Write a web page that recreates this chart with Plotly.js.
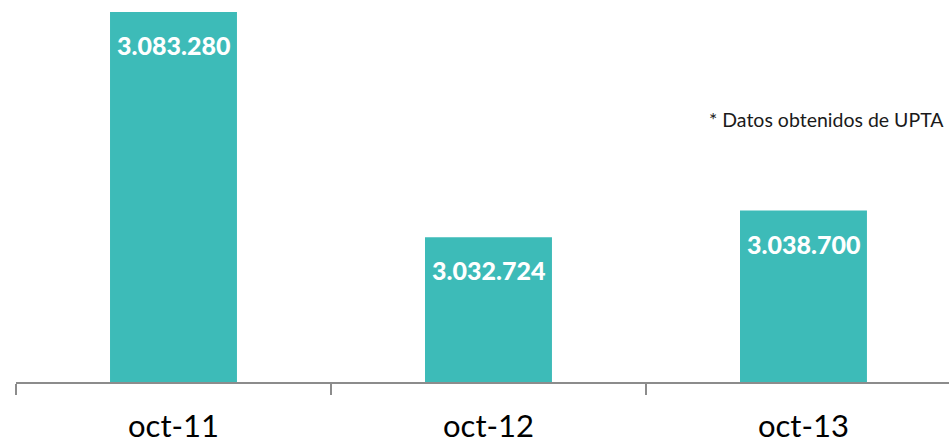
<!DOCTYPE html>
<html>
<head>
<meta charset="utf-8">
<script src="https://cdn.plot.ly/plotly-3.0.1.min.js"></script>
<style>html,body{margin:0;padding:0;background:#fff;}#chart{width:949px;height:446px;}</style>
</head>
<body>
<div id="chart"></div>
<script>
const categories = ["oct-11", "oct-12", "oct-13"];
const values = [3083280, 3032724, 3038700];
const note = "* Datos obtenidos de UPTA";

function fmt(v) {
  return String(v).replace(/\B(?=(\d{3})+(?!\d))/g, ".");
}

const barColor = "#3dbbb8";
const font = "Lato, 'Open Sans', sans-serif";

const trace = {
  type: "bar",
  x: categories,
  y: values,
  marker: { color: barColor, line: { width: 0 } },
  hoverinfo: "skip"
};

const annotations = categories.map((c, i) => ({
  x: c, y: values[i], xref: "x", yref: "y",
  text: fmt(values[i]),
  showarrow: false, yanchor: "middle", yshift: -33,
  font: { family: font, size: 25, color: "#ffffff", weight: 900 }
}));
annotations.push({
  x: 0.9965, y: 1 - 119 / 382, xref: "paper", yref: "paper",
  text: note, showarrow: false, xanchor: "right", yanchor: "middle",
  font: { family: font, size: 19.5, color: "#1a1a1a" }
});

const layout = {
  width: 949, height: 446,
  margin: { l: 16, r: 0, t: 0, b: 64, pad: 0 },
  paper_bgcolor: "#ffffff", plot_bgcolor: "#ffffff",
  showlegend: false,
  bargap: 0.597,
  xaxis: {
    type: "category",
    range: [-0.5, 2.462],
    showline: true, linecolor: "#8c8c8c", linewidth: 2,
    ticks: "outside", tickson: "boundaries", ticklen: 11, tickwidth: 2, tickcolor: "#8c8c8c",
    showgrid: false, zeroline: false,
    tickfont: { family: font, size: 31, color: "#000000" },
    ticklabelstandoff: 16,
    fixedrange: true
  },
  yaxis: {
    visible: false,
    range: [3000200, 3086000],
    showgrid: false, zeroline: false, fixedrange: true
  },
  annotations: annotations
};

Plotly.newPlot("chart", [trace], layout, { displayModeBar: false, staticPlot: true });
</script>
</body>
</html>
